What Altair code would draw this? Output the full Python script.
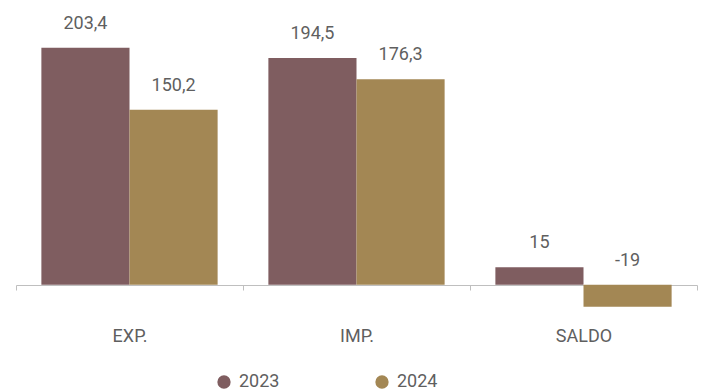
import altair as alt
import pandas as pd

categories = ["EXP.", "IMP.", "SALDO"]
years = ["2023", "2024"]
values_2023 = [203.4, 194.5, 15]
values_2024 = [150.2, 176.3, -19]
colors = ["#7F5D60", "#A38754"]

rows = []
for yr, vals in zip(years, [values_2023, values_2024]):
    for c, v in zip(categories, vals):
        lab = (f"{v:g}").replace(".", ",")
        rows.append({"cat": c, "year": yr, "value": v, "pos": max(v, 0), "label": lab})
df = pd.DataFrame(rows)

FONT = "Roboto"

base = alt.Chart(df).encode(
    x=alt.X("cat:N", sort=categories, title=None,
            scale=alt.Scale(paddingInner=0, paddingOuter=0),
            axis=alt.Axis(tickBand="extent", labelAngle=0, labelFontSize=18,
                          labelColor="#5F5F5F", labelFont=FONT, labelPadding=37,
                          domainColor="#BFBFBF", tickColor="#BFBFBF", tickSize=5,
                          domainWidth=1, tickWidth=1, offset=-23, grid=False)),
    xOffset=alt.XOffset("year:N", sort=years,
                        scale=alt.Scale(paddingInner=0, paddingOuter=0.288)),
)

bars = base.mark_bar().encode(
    y=alt.Y("value:Q", scale=alt.Scale(domain=[-20, 240], nice=False, zero=False), axis=None),
    color=alt.Color("year:N", sort=years,
                    scale=alt.Scale(domain=years, range=colors),
                    legend=alt.Legend(title=None, orient="none", direction="horizontal",
                                      legendX=199, legendY=368, padding=0,
                                      symbolType="circle", symbolSize=177,
                                      symbolStrokeWidth=0, labelFontSize=18,
                                      labelFont=FONT, labelColor="#5F5F5F",
                                      labelOffset=6, columnPadding=93)),
)

texts = base.mark_text(baseline="alphabetic", dy=-19, fontSize=18, font=FONT,
                       color="#5F5F5F").encode(
    y=alt.Y("pos:Q"),
    text="label:N",
)

chart = alt.layer(bars, texts).properties(
    width=681, height=303,
    autosize=alt.AutoSizeParams(type="none"),
    padding={"left": 16, "top": 5, "right": 9, "bottom": 83},
).configure_view(stroke=None)

chart.save("out.html", embed_options={"renderer": "svg", "actions": False})
